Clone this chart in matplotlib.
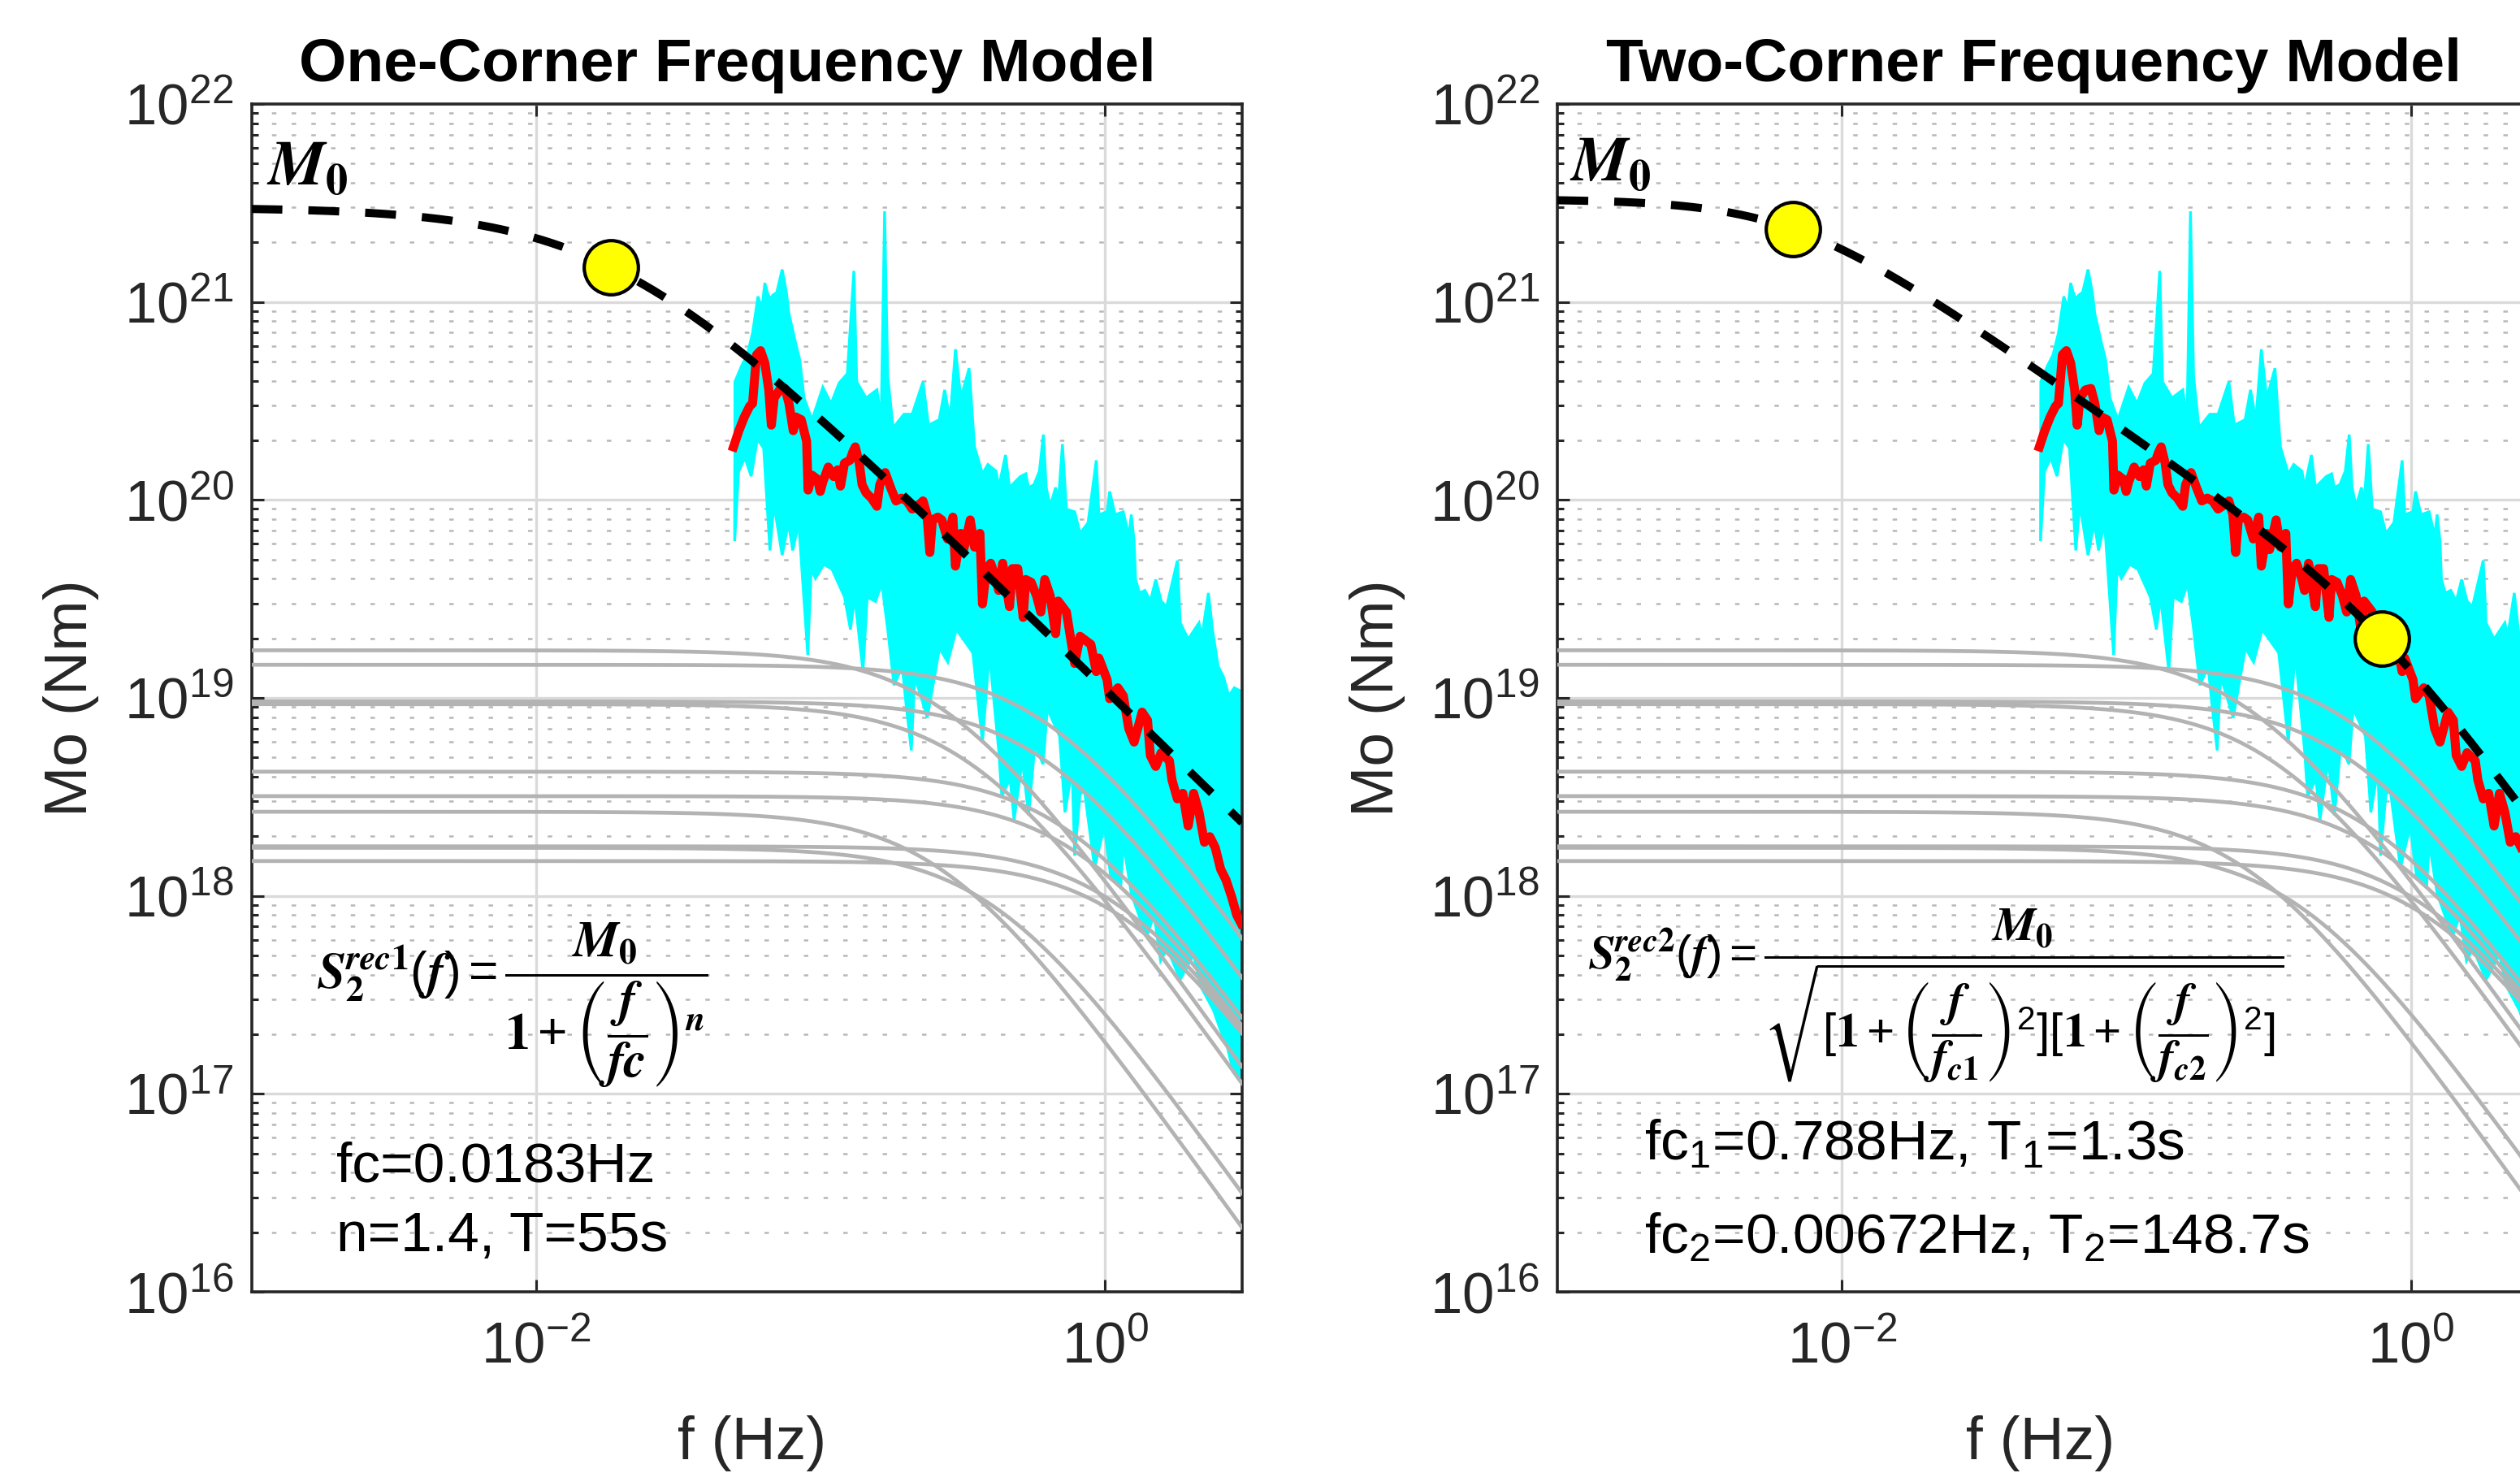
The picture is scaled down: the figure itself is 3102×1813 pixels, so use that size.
import numpy as np
import matplotlib
matplotlib.use("Agg")
import matplotlib.pyplot as plt
from matplotlib.ticker import FixedLocator, LogLocator, NullLocator

plt.rcParams["font.family"] = ["Liberation Sans", "DejaVu Sans"]
plt.rcParams["mathtext.fontset"] = "custom"
plt.rcParams["mathtext.rm"] = "Liberation Sans"
plt.rcParams["mathtext.it"] = "Liberation Sans:italic"
plt.rcParams["mathtext.bf"] = "Liberation Sans:bold"
plt.rcParams["mathtext.default"] = "regular"

TEXT_COLOR = "#262626"
CYAN = "#00ffff"
GRAY = "#b3b3b3"

cyan_top_logf = [-1.301, -1.277, -1.258, -1.239, -1.220, -1.206, -1.196, -1.187, -1.177, -1.168,
                 -1.154, -1.135, -1.120, -1.111, -1.087, -1.073, -1.058, -1.030, -0.992, -0.963,
                 -0.935, -0.906, -0.892, -0.883, -0.873, -0.840, -0.802, -0.787, -0.775, -0.764,
                 -0.745, -0.707, -0.678, -0.640, -0.621, -0.583, -0.564, -0.545, -0.526, -0.507,
                 -0.478, -0.459, -0.431, -0.412, -0.383, -0.374, -0.350, -0.336, -0.298, -0.279,
                 -0.269, -0.250, -0.231, -0.217, -0.207, -0.193, -0.174, -0.165, -0.150, -0.136,
                 -0.107, -0.088, -0.060, -0.031, -0.022, 0.007, 0.016, 0.035, 0.064, 0.083,
                 0.092, 0.102, 0.107, 0.121, 0.140, 0.159, 0.178, 0.197, 0.216, 0.254,
                 0.264, 0.292, 0.330, 0.340, 0.363, 0.378, 0.397, 0.416, 0.435, 0.454,
                 0.473, 0.482]
cyan_top_logm = [20.597, 20.679, 20.733, 20.843, 21.028, 20.966, 21.096, 21.048, 21.014, 21.034,
                 21.048, 21.164, 21.048, 20.939, 20.788, 20.706, 20.515, 20.405, 20.569, 20.487,
                 20.590, 20.638, 20.952, 21.157, 20.597, 20.515, 20.556, 20.405, 21.458, 20.624,
                 20.364, 20.433, 20.433, 20.597, 20.378, 20.405, 20.556, 20.405, 20.761, 20.515,
                 20.665, 20.268, 20.132, 20.179, 20.145, 20.063, 20.227, 20.063, 20.118, 20.132,
                 20.063, 20.077, 20.145, 20.330, 20.063, 19.967, 20.063, 19.981, 20.282, 19.954,
                 19.940, 19.831, 19.885, 20.200, 19.926, 19.940, 20.043, 19.926, 19.940, 19.817,
                 19.926, 19.790, 19.598, 19.530, 19.543, 19.489, 19.598, 19.489, 19.461, 19.694,
                 19.379, 19.297, 19.379, 19.311, 19.530, 19.338, 19.160, 19.106, 19.010, 19.051,
                 19.037, 19.024]
cyan_bot_logf = [-1.302, -1.288, -1.266, -1.244, -1.222, -1.200, -1.178, -1.164, -1.135, -1.113,
                 -1.098, -1.077, -1.045, -1.033, -1.018, -0.989, -0.960, -0.916, -0.895, -0.880,
                 -0.851, -0.836, -0.807, -0.785, -0.764, -0.742, -0.713, -0.698, -0.681, -0.669,
                 -0.625, -0.582, -0.553, -0.523, -0.465, -0.431, -0.407, -0.374, -0.363, -0.334,
                 -0.320, -0.291, -0.269, -0.247, -0.218, -0.203, -0.160, -0.141, -0.116, -0.107,
                 -0.088, -0.072, -0.037, -0.003, 0.020, 0.055, 0.064, 0.092, 0.137, 0.149,
                 0.172, 0.195, 0.218, 0.264, 0.288, 0.311, 0.334, 0.358, 0.381, 0.404,
                 0.427, 0.451, 0.474, 0.482]
cyan_bot_logm = [19.792, 20.144, 20.214, 20.120, 20.308, 20.261, 19.745, 19.979, 19.721, 19.886,
                 19.745, 19.886, 19.217, 19.651, 19.604, 19.674, 19.651, 19.510, 19.346, 19.510,
                 19.134, 19.510, 19.487, 19.580, 19.346, 19.064, 19.158, 18.947, 18.735, 19.111,
                 18.900, 19.252, 19.181, 19.346, 19.228, 18.777, 19.228, 18.736, 18.501, 18.594,
                 18.383, 18.688, 18.407, 18.759, 18.665, 18.947, 18.806, 18.422, 18.641, 18.203,
                 18.518, 18.524, 18.141, 18.353, 18.094, 18.047, 18.271, 18.011, 17.828, 17.806,
                 17.906, 17.672, 17.734, 17.578, 17.641, 17.703, 17.547, 17.484, 17.422, 17.328,
                 17.250, 17.109, 17.063, 17.050]

# mean spectrum (red)
red_logf = [-1.306, -1.287, -1.268, -1.249, -1.239, -1.225, -1.211, -1.196, -1.182, -1.173,
            -1.163, -1.144, -1.125, -1.111, -1.096, -1.087, -1.068, -1.049, -1.044, -1.030,
            -1.011, -1.001, -0.992, -0.973, -0.954, -0.940, -0.930, -0.916, -0.897, -0.887,
            -0.878, -0.864, -0.854, -0.840, -0.821, -0.802, -0.792, -0.773, -0.754, -0.735,
            -0.716, -0.697, -0.678, -0.650, -0.640, -0.626, -0.616, -0.607, -0.588, -0.574,
            -0.554, -0.535, -0.526, -0.507, -0.497, -0.474, -0.459, -0.440, -0.431, -0.417,
            -0.402, -0.383, -0.374, -0.360, -0.336, -0.326, -0.307, -0.288, -0.279, -0.260,
            -0.241, -0.226, -0.212, -0.193, -0.174, -0.165, -0.136, -0.107, -0.088, -0.050,
            -0.031, -0.022, 0.007, 0.016, 0.045, 0.064, 0.083, 0.102, 0.130, 0.149,
            0.159, 0.178, 0.197, 0.226, 0.235, 0.254, 0.273, 0.292, 0.311, 0.330,
            0.349, 0.368, 0.387, 0.406, 0.425, 0.444, 0.463, 0.478]
red_logm = [20.268, 20.350, 20.419, 20.474, 20.487, 20.733, 20.754, 20.692, 20.556, 20.378,
            20.515, 20.556, 20.563, 20.487, 20.350, 20.419, 20.405, 20.296, 20.050, 20.125,
            20.104, 20.043, 20.091, 20.166, 20.118, 20.152, 20.070, 20.186, 20.200, 20.241,
            20.268, 20.186, 20.077, 20.036, 20.009, 19.968, 20.077, 20.138, 20.063, 19.995,
            20.009, 19.995, 19.954, 19.981, 19.995, 19.926, 19.735, 19.899, 19.913, 19.899,
            19.803, 19.913, 19.666, 19.831, 19.749, 19.899, 19.762, 19.831, 19.475, 19.653,
            19.680, 19.598, 19.543, 19.680, 19.461, 19.653, 19.653, 19.407, 19.598, 19.584,
            19.516, 19.434, 19.598, 19.516, 19.325, 19.489, 19.434, 19.174, 19.311, 19.270,
            19.133, 19.201, 19.092, 18.996, 19.051, 19.010, 18.846, 18.777, 18.928, 18.887,
            18.709, 18.654, 18.723, 18.682, 18.586, 18.490, 18.518, 18.353, 18.518, 18.422,
            18.271, 18.299, 18.244, 18.135, 18.080, 17.998, 17.902, 17.861]

# individual source spectra (gray, omega-square): plateau and corner frequency
gray_m0 = [1.74e19, 1.47e19, 9.6e18, 9.3e18, 4.24e18, 3.19e18, 2.66e18, 1.75e18, 1.78e18, 1.50e18]
gray_fc = [0.27, 0.63, 0.62, 0.336, 0.746, 0.826, 0.271, 0.41, 1.12, 1.195]

# fitted models
one_m0, one_fc, one_n = 3.0e21, 0.0183, 1.4
two_m0, two_fc1, two_fc2 = 3.3e21, 0.788, 0.00672

F_MIN, F_MAX = 1e-3, 3.03
Y_MIN, Y_MAX = 1e16, 1e22


def one_corner(f):
    return one_m0 / (1 + (f / one_fc) ** one_n)


def two_corner(f):
    return two_m0 / np.sqrt((1 + (f / two_fc1) ** 2) * (1 + (f / two_fc2) ** 2))


def draw_common(ax):
    top_f = 10 ** np.array(cyan_top_logf)
    top_m = 10 ** np.array(cyan_top_logm)
    bot_f = 10 ** np.array(cyan_bot_logf)
    bot_m = 10 ** np.array(cyan_bot_logm)
    ax.fill(np.r_[top_f, bot_f[::-1]], np.r_[top_m, bot_m[::-1]],
            facecolor=CYAN, edgecolor=CYAN, lw=1.2, zorder=2)

    f_grid = np.logspace(np.log10(F_MIN), np.log10(F_MAX), 400)
    for m0, fc in zip(gray_m0, gray_fc):
        ax.plot(f_grid, m0 / (1 + (f_grid / fc) ** 2), color=GRAY, lw=1.7, zorder=3)

    ax.plot(10 ** np.array(red_logf), 10 ** np.array(red_logm), color="red", lw=4.0,
            solid_joinstyle="round", zorder=4)


def style_axes(ax):
    ax.set_xscale("log")
    ax.set_yscale("log")
    ax.set_xlim(F_MIN, F_MAX)
    ax.set_ylim(Y_MIN, Y_MAX)
    ax.xaxis.set_major_locator(FixedLocator([1e-2, 1e0]))
    ax.xaxis.set_minor_locator(NullLocator())
    ax.yaxis.set_major_locator(LogLocator(base=10, numticks=20))
    ax.yaxis.set_minor_locator(LogLocator(base=10, subs=np.arange(2, 10), numticks=100))
    ax.tick_params(which="both", direction="in", top=True, right=True,
                   colors=TEXT_COLOR, width=1.1)
    ax.tick_params(which="major", length=5.5, labelsize=25.5)
    ax.tick_params(which="minor", length=3)
    ax.tick_params(axis="x", which="major", pad=13)
    ax.tick_params(axis="y", which="major", pad=8)
    ax.grid(which="major", color="#dadada", lw=1.2, ls="-")
    ax.grid(which="minor", axis="y", color="#b8b8b8", lw=0.9, ls=(0, (2.2, 7.5)))
    ax.set_axisbelow(True)
    for spine in ax.spines.values():
        spine.set_color(TEXT_COLOR)
        spine.set_linewidth(1.3)


fig = plt.figure(figsize=(15.51, 9.065), dpi=200)
ax1 = fig.add_axes([0.0998, 0.123, 0.3931, 0.8064])
ax2 = fig.add_axes([0.618, 0.123, 0.3931, 0.8064])

f_model = np.logspace(np.log10(F_MIN), np.log10(F_MAX), 400)

for ax in (ax1, ax2):
    style_axes(ax)
    draw_common(ax)

ax1.plot(f_model, one_corner(f_model), color="black", lw=3.6, dashes=(3.8, 3.2), zorder=5)
ax1.plot([one_fc], [one_corner(one_fc)], "o", ms=24, mfc="yellow", mec="black", mew=1.5, zorder=6)

ax2.plot(f_model, two_corner(f_model), color="black", lw=3.6, dashes=(3.8, 3.2), zorder=5)
ax2.plot([two_fc2, two_fc1], [two_corner(two_fc2), two_corner(two_fc1)], "o", ms=24,
         mfc="yellow", mec="black", mew=1.5, ls="none", zorder=6)

titles = ["One-Corner Frequency Model", "Two-Corner Frequency Model"]
for ax, title, tx, lx in zip((ax1, ax2), titles, (0.48, 0.481), (0.505, 0.488)):
    ax.text(tx, 1.019, title, transform=ax.transAxes, ha="center", va="baseline",
            fontsize=27, fontweight="bold", color="black")
    ax.text(-0.182, 0.5, "Mo (Nm)", transform=ax.transAxes, rotation=90,
            ha="center", va="center", fontsize=27, color=TEXT_COLOR)
    ax.text(lx, -0.141, "f (Hz)", transform=ax.transAxes, ha="center", va="baseline",
            fontsize=27, color=TEXT_COLOR)

ax1.text(0.015, 0.932, r"$\mathbfit{M}_{\mathbf{0}}$", transform=ax1.transAxes,
         fontsize=28, math_fontfamily="stix", va="baseline", zorder=7)
ax2.text(0.012, 0.935, r"$\mathbfit{M}_{\mathbf{0}}$", transform=ax2.transAxes,
         fontsize=28, math_fontfamily="stix", va="baseline", zorder=7)

eq1 = (r"$\mathbfit{S}_{\mathbf{2}}^{\mathbfit{rec}\mathbf{1}}(\mathbfit{f}) = "
       r"\dfrac{\mathbfit{M}_{\mathbf{0}}}{\mathbf{1}+\left(\dfrac{\mathbfit{f}}{\mathbfit{fc}}\right)^{\mathbfit{n}}}$")
eq2 = (r"$\mathbfit{S}_{\mathbf{2}}^{\mathbfit{rec}\mathbf{2}}(\mathbfit{f}) = \dfrac{\mathbfit{M}_{\mathbf{0}}}"
       r"{\sqrt{[\mathbf{1}+\left(\dfrac{\mathbfit{f}}{\mathbfit{f}_{\mathbfit{c}\mathbf{1}}}\right)^{2}]"
       r"[\mathbf{1}+\left(\dfrac{\mathbfit{f}}{\mathbfit{f}_{\mathbfit{c}\mathbf{2}}}\right)^{2}]}}$")
ax1.text(0.066, 0.241, eq1, transform=ax1.transAxes, fontsize=22.5,
         math_fontfamily="stix", ha="left", va="center", zorder=7)
ax2.text(0.031, 0.249, eq2, transform=ax2.transAxes, fontsize=21,
         math_fontfamily="stix", ha="left", va="center", zorder=7)

ax1.text(0.0857, 0.093, "fc=0.0183Hz", transform=ax1.transAxes, fontsize=25,
         color="black", va="baseline", zorder=7)
ax1.text(0.0857, 0.034, "n=1.4, T=55s", transform=ax1.transAxes, fontsize=25,
         color="black", va="baseline", zorder=7)
ax2.text(0.088, 0.1115, r"fc$_1$=0.788Hz, T$_1$=1.3s", transform=ax2.transAxes,
         fontsize=25, color="black", va="baseline", zorder=7)
ax2.text(0.088, 0.033, r"fc$_2$=0.00672Hz, T$_2$=148.7s", transform=ax2.transAxes,
         fontsize=25, color="black", va="baseline", zorder=7)

fig.savefig("out.png", dpi=200)
plt.close(fig)
